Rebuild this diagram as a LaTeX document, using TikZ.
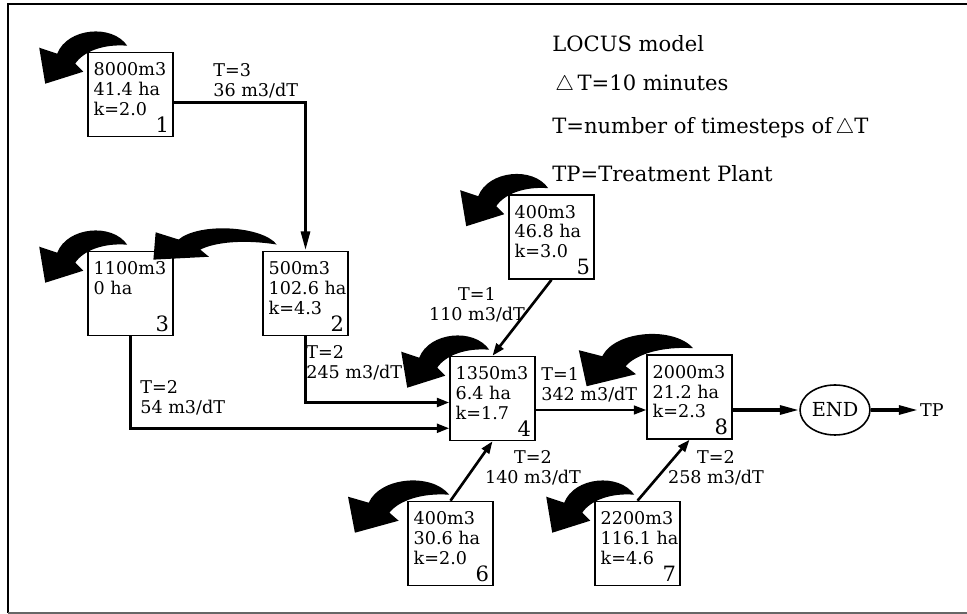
\documentclass[tikz,border=0pt]{standalone}
\usepackage{fontspec}
\setmainfont{DejaVu Serif}
\usetikzlibrary{shapes.geometric,arrows.meta,calc}

\begin{document}
\begin{tikzpicture}[x=0.02cm, y=-0.02cm,
	every node/.style={font=\fontsize{10}{11.3}\selectfont},
	basin/.style 2 args={draw, line width=0.9pt, minimum width=1.7cm, minimum height=1.68cm, inner sep=0pt,
		label={[anchor=north west, align=left, inner xsep=3.5pt, inner ysep=6pt]north west:{#1}},
		label={[anchor=south east, inner sep=2.5pt, font=\fontsize{12}{12}\selectfont]south east:#2}},
	flowlabel/.style={align=left, inner sep=0pt},
	legend/.style={anchor=north west, inner sep=0pt, font=\fontsize{12}{14}\selectfont},
	flow/.style={line width=1.5pt, -{Triangle[length=7pt,width=5pt]}},
	longflow/.style={line width=2pt, -{Triangle[length=11pt,width=5pt]}},
	outflow/.pic={\fill (40,-6) .. controls (25,-28) and (-20,-24) .. (-30,2) -- (-48,-4) -- (-42,32) -- (-4,20) -- (-12,12) .. controls (-4,0) and (16,-8) .. (40,-6) -- cycle;}]
    \useasboundingbox (0,0) rectangle (967,614);
    \draw[line width=1.5pt] (967,4) -- (8,4) -- (8,613);
    \draw[line width=1.2pt, black!60] (8,613) -- (967,613);

    \node[basin={8000m3\\41.4 ha\\k=2.0}{1}] (b1) at (130.5,94.5) {};
    \node[basin={500m3\\102.6 ha\\k=4.3}{2}] (b2) at (305.5,293.5) {};
    \node[basin={1100m3\\0 ha}{3}] (b3) at (130.5,293.5) {};
    \node[basin={1350m3\\6.4 ha\\k=1.7}{4}] (b4) at (492.5,398.5) {};
    \node[basin={400m3\\46.8 ha\\k=3.0}{5}] (b5) at (551.5,237) {};
    \node[basin={400m3\\30.6 ha\\k=2.0}{6}] (b6) at (450.5,543.5) {};
    \node[basin={2200m3\\116.1 ha\\k=4.6}{7}] (b7) at (637.5,543.5) {};
    \node[basin={2000m3\\21.2 ha\\k=2.3}{8}] (b8) at (689.5,397) {};
    \node[draw, ellipse, line width=0.9pt, minimum width=1.4cm, minimum height=1cm, inner sep=0pt,
    	font=\fontsize{11}{12}\selectfont] (outlet) at (835,410) {END};
    \node[inner sep=1pt] (tp) at (932,410) {TP};

    \draw[longflow] ($(b1.east)+(0,8)$) -| (b2.north);
    \draw[flow] (b3.south) |- ($(b4.south west)+(0,-13)$);
    \draw[flow] (b2.south) |- ($(b4.west)+(0,4)$);
    \draw[flow] (b5.south) -- (b4.north);
    \draw[flow] (b6.north) -- (b4.south);
    \draw[flow] (b7.north) -- (b8.south);
    \draw[flow, line width=1.1pt] (b4.east |- outlet) -- (b8.west |- outlet);
    \draw[longflow] (b8.east |- outlet) -- (outlet);
    \draw[longflow] (outlet) -- (tp);

    \node[flowlabel, anchor=north west] (t12) at (213,63) {T=3\\36 m3/dT};
    \node[flowlabel, anchor=north west] (t24) at (306,345) {T=2\\245 m3/dT};
    \node[flowlabel, anchor=north west] (t34) at (140,380) {T=2\\54 m3/dT};
    \node[flowlabel, anchor=north, align=center] (t54) at (477,287) {T=1\\110 m3/dT};
    \node[flowlabel, anchor=north west] (t48) at (541,367) {T=1\\342 m3/dT};
    \node[flowlabel, anchor=north, align=center] (t64) at (533,450) {T=2\\140 m3/dT};
    \node[flowlabel, anchor=north, align=center] (t78) at (716,450) {T=2\\258 m3/dT};

    \node[legend] (title) at (552,35) {LOCUS model};
    \node[legend] (dt) at (555,75) {$\triangle$\,T=10 minutes};
    \node[legend] (tdef) at (552,117) {T=number of timesteps of\,$\triangle$T};
    \node[legend] (tpdef) at (552,165) {TP=Treatment Plant};

    \pic at (b1.north west) {outflow};
    \pic[xscale=1.4, yscale=0.75, rotate=-12] at ($(b2.north west)+(-42,-8)$) {outflow};
    \pic at (b3.north west) {outflow};
    \pic at (b4.north west) {outflow};
    \pic at (b5.north west) {outflow};
    \pic[xscale=1.15] at ($(b6.north west)+(-4,0)$) {outflow};
    \pic at (b7.north west) {outflow};
    \pic[xscale=1.3] at ($(b8.north west)+(-5,0)$) {outflow};
\end{tikzpicture}
\end{document}
